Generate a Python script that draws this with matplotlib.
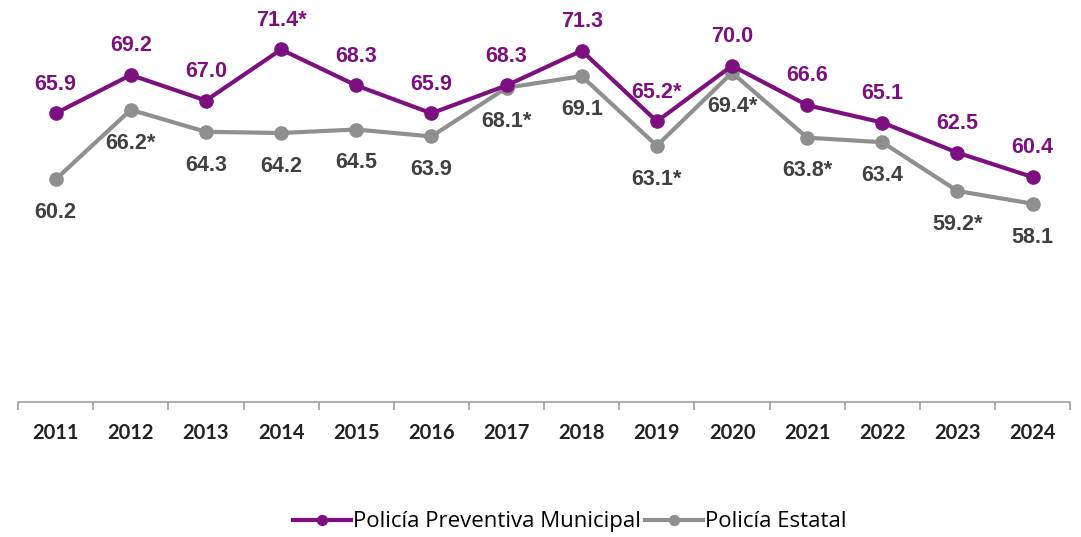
import matplotlib.pyplot as plt

years = ['2011', '2012', '2013', '2014', '2015', '2016', '2017',
         '2018', '2019', '2020', '2021', '2022', '2023', '2024']
municipal = [65.9, 69.2, 67.0, 71.4, 68.3, 65.9, 68.3, 71.3, 65.2, 70.0, 66.6, 65.1, 62.5, 60.4]
estatal = [60.2, 66.2, 64.3, 64.2, 64.5, 63.9, 68.1, 69.1, 63.1, 69.4, 63.8, 63.4, 59.2, 58.1]
municipal_labels = ['65.9', '69.2', '67.0', '71.4*', '68.3', '65.9', '68.3',
                    '71.3', '65.2*', '70.0', '66.6', '65.1', '62.5', '60.4']
estatal_labels = ['60.2', '66.2*', '64.3', '64.2', '64.5', '63.9', '68.1*',
                  '69.1', '63.1*', '69.4*', '63.8*', '63.4', '59.2*', '58.1']

purple = '#7d1080'
gray = '#8f8f8f'

fig = plt.figure(figsize=(10.81, 5.37), dpi=100)
ax = fig.add_axes([0.0167, 0.2514, 0.9733, 0.732])

x = list(range(len(years)))
ax.plot(x, municipal, color=purple, lw=3, marker='o', ms=9.5, label='Policía Preventiva Municipal', zorder=3)
ax.plot(x, estatal, color=gray, lw=3, marker='o', ms=9.5, label='Policía Estatal', zorder=2)

for i in x:
    ax.annotate(municipal_labels[i], (i, municipal[i]), xytext=(0, 21), textcoords='offset points',
                ha='center', va='center', color=purple, fontsize=15.5, fontweight='bold',
                family='Liberation Sans')
    ax.annotate(estatal_labels[i], (i, estatal[i]), xytext=(0, -24), textcoords='offset points',
                ha='center', va='center', color='#404040', fontsize=15.5, fontweight='bold',
                family='Liberation Sans')

ax.set_xlim(-0.5, len(years) - 0.5)
ax.set_ylim(41, 74.9)
ax.set_yticks([])
for s in ['top', 'right', 'left']:
    ax.spines[s].set_visible(False)
ax.spines['bottom'].set_color('#a0a0a0')
ax.spines['bottom'].set_linewidth(1.2)

ax.set_xticks([i - 0.5 for i in range(len(years) + 1)], minor=False)
ax.set_xticklabels([])
ax.tick_params(axis='x', which='major', length=6, color='#a0a0a0', width=1.2)
ax.set_xticks(x, minor=True)
ax.set_xticklabels(years, minor=True, fontsize=14.5, fontweight='bold', family='Lato', color='#222222')
ax.tick_params(axis='x', which='minor', length=0, pad=15)

fig.legend(loc='center', bbox_to_anchor=(0.527, 0.028), ncol=2, frameon=False,
           prop={'family': 'Open Sans', 'size': 16}, handlelength=2.6, columnspacing=0.2,
           handletextpad=0.1, markerscale=0.75)

fig.savefig('out.png', dpi=100)
